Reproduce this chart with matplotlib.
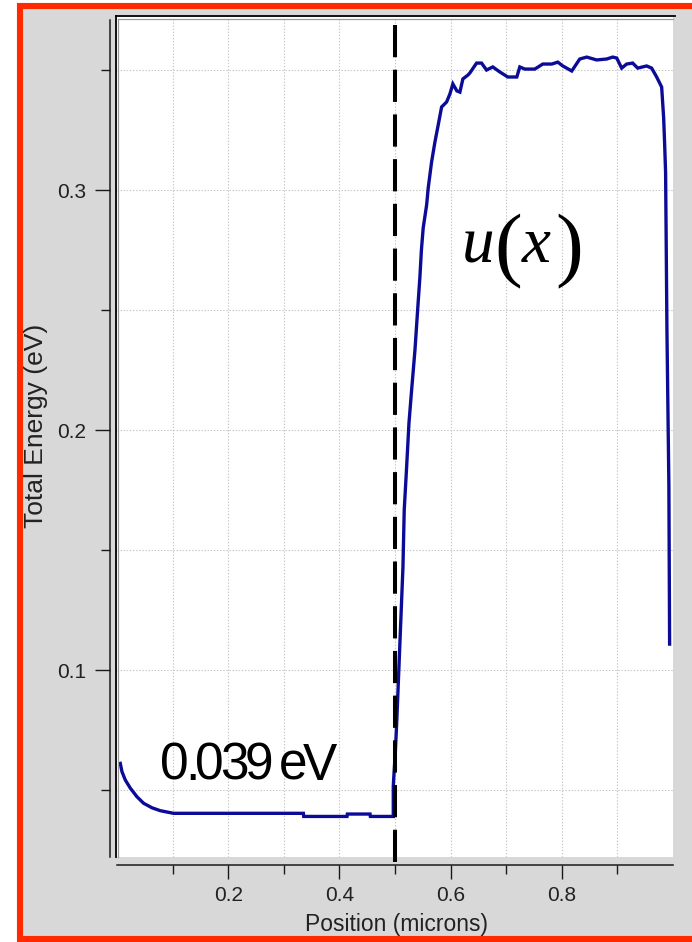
import numpy as np
import matplotlib
matplotlib.use("Agg")
import matplotlib.pyplot as plt
from matplotlib.patches import Rectangle
from matplotlib.lines import Line2D
from matplotlib.transforms import offset_copy
from matplotlib import font_manager

# ---------------------------------------------------------------- data
floor_energy = 0.039          # eV, bottom of the well
interface_x = 0.5             # microns, junction position

# well region (left of the junction)
x_well = [0.0059, 0.0090, 0.0149, 0.0239, 0.0359, 0.0478, 0.0629, 0.0778,
          0.1017, 0.3352, 0.3358, 0.4137, 0.4143, 0.4551, 0.4557, 0.4969]
e_well = [0.0611, 0.0576, 0.0542, 0.0508, 0.0472, 0.0445, 0.0426, 0.0414,
          0.0403, 0.0403, floor_energy, floor_energy, 0.0400, 0.0400,
          floor_energy, floor_energy]

# rising edge of the barrier
x_rise = [0.4969, 0.4972, 0.5008, 0.5035, 0.5071, 0.5107, 0.5143, 0.5166,
          0.5209, 0.5251, 0.5299, 0.5359, 0.5407, 0.5448, 0.5475, 0.5507,
          0.5569, 0.5597, 0.5658, 0.5718, 0.5777, 0.5838]
e_rise = [0.0514, 0.0529, 0.0667, 0.0804, 0.1013, 0.1221, 0.1429, 0.1667,
          0.1846, 0.2029, 0.2167, 0.2333, 0.2500, 0.2638, 0.2750, 0.2842,
          0.2938, 0.3008, 0.3117, 0.3200, 0.3271, 0.3346]

# barrier top and far edge
x_top = [0.5928, 0.5987, 0.6041, 0.6113, 0.6167, 0.6221, 0.6311, 0.6347,
         0.6467, 0.6557, 0.6646, 0.6759, 0.6885, 0.7029, 0.7191, 0.7245,
         0.7335, 0.7514, 0.7658, 0.7820, 0.7928, 0.8018, 0.8179, 0.8323,
         0.8449, 0.8628, 0.8808, 0.8916, 0.8988, 0.9077, 0.9167, 0.9275,
         0.9365, 0.9526, 0.9616, 0.9706, 0.9760, 0.9796, 0.9832, 0.9849,
         0.9867, 0.9891, 0.9926, 0.9939]
e_top = [0.3367, 0.3400, 0.3442, 0.3413, 0.3408, 0.3463, 0.3479, 0.3488,
         0.3529, 0.3529, 0.3500, 0.3513, 0.3492, 0.3471, 0.3471, 0.3513,
         0.3504, 0.3504, 0.3525, 0.3525, 0.3533, 0.3517, 0.3496, 0.3546,
         0.3554, 0.3542, 0.3546, 0.3554, 0.3550, 0.3508, 0.3525, 0.3529,
         0.3508, 0.3517, 0.3508, 0.3471, 0.3446, 0.3429, 0.3300, 0.3196,
         0.3071, 0.2417, 0.1767, 0.1108]

x_major = [0.2, 0.4, 0.6, 0.8]
x_major_labels = ["0.2", "0.4", "0.6", "0.8"]
x_minor = [0.1, 0.3, 0.5, 0.7, 0.9]
y_major = [0.1, 0.2, 0.3]
y_major_labels = ["0.1", "0.2", "0.3"]
y_minor = [0.05, 0.15, 0.25, 0.35]
x_limits = (0.0, 1.0)
y_limits = (0.0221, 0.3721)
dash_top = 0.3688
dash_bottom = 0.0188

# ---------------------------------------------------------------- fonts
installed = {f.name for f in font_manager.fontManager.ttflist}


def first_installed(candidates, default):
    for name in candidates:
        if name in installed:
            return name
    return default


sans = first_installed(["Liberation Sans", "Arimo"], "DejaVu Sans")
serif = first_installed(["Liberation Serif", "Tinos"], "DejaVu Serif")
plt.rcParams["font.family"] = [sans, "DejaVu Sans"]

W, H = 692, 942
fig = plt.figure(figsize=(W / 100, H / 100), dpi=100, facecolor="white")

# panel background with red outline
panel = Rectangle((19.7 / W, 1 - 938.5 / H), (720 - 19.7) / W, (938.5 - 6.3) / H,
                  transform=fig.transFigure, facecolor="#d8d8d8",
                  edgecolor="#ff2a00", linewidth=4.4, zorder=-10)
fig.add_artist(panel)

ax = fig.add_axes([117 / W, 1 - 857 / H, (673 - 117) / W, (857 - 17) / H])
ax.set_zorder(1)
ax.set_facecolor("white")
ax.set_xlim(*x_limits)
ax.set_ylim(*y_limits)

# axis lines sit slightly away from the plotting area
for side in ("top", "right"):
    ax.spines[side].set_visible(False)
ax.spines["left"].set_position(("outward", 5.0))
ax.spines["bottom"].set_position(("outward", 5.8))
for side in ("left", "bottom"):
    ax.spines[side].set_color("#1a1a1a")
    ax.spines[side].set_linewidth(1.1)
ax.spines["left"].set_bounds(y_limits[0], 0.3708)

ax.set_xticks(x_major)
ax.set_xticklabels(x_major_labels)
ax.set_xticks(x_minor, minor=True)
ax.set_yticks(y_major)
ax.set_yticklabels(y_major_labels)
ax.set_yticks(y_minor, minor=True)
ax.tick_params(axis="both", which="major", direction="out", width=1.0,
               color="#1a1a1a", labelsize=15, labelcolor="#222222")
ax.tick_params(axis="y", which="major", length=10.8, pad=6.5)
ax.tick_params(axis="x", which="major", length=10.0, pad=5.0)
ax.tick_params(axis="both", which="minor", direction="out", width=1.0,
               color="#1a1a1a", length=6.8)

ax.grid(which="both", color="#c4c4c4", linewidth=0.8, dashes=(1.2, 1.6))
ax.set_axisbelow(True)

# bevelled frame on the left and top of the plotting area
frame_kw = dict(transform=ax.transAxes, clip_on=False, zorder=5)
ax.add_line(Line2D([-0.002, -0.002], [0.0, 1.0015], color="black", lw=1.3, **frame_kw))
ax.add_line(Line2D([-0.002, 1.004], [1.0015, 1.0015], color="black", lw=1.3, **frame_kw))
ax.add_line(Line2D([0.0015, 0.0015], [0.0, 0.998], color="#9a9a9a", lw=0.9, **frame_kw))
ax.add_line(Line2D([0.0015, 1.0], [0.998, 0.998], color="#9a9a9a", lw=0.9, **frame_kw))

# energy profile
x_all = np.concatenate([x_well, x_rise, x_top])
e_all = np.concatenate([e_well, e_rise, e_top])
ax.plot(x_all, e_all, color="#0b0b98", linewidth=2.4, solid_joinstyle="miter",
        zorder=3)

# junction marker
ax.plot([interface_x, interface_x], [dash_top, dash_bottom], color="black",
        linewidth=2.9, dashes=(8, 3.1), clip_on=False, zorder=4)

ax.set_xlabel("Position (microns)", fontsize=16.5, color="#222222",
              va="top", ha="center")
ax.xaxis.set_label_coords(0.5018, -0.0665)
ax.set_ylabel("Total Energy (eV)", fontsize=19, color="#222222",
              va="center", ha="center")
ax.yaxis.set_label_coords(-0.1457, 0.513)

# well-floor annotation, set with tight letter spacing
floor_text = f"{floor_energy:.3f} eV"
label_x, label_y = 0.0778, 0.0542
label_size = 37
label_width_px = 173.0
space_px = 6.0
renderer = fig.canvas.get_renderer()
glyphs = []
for ch in floor_text:
    if ch == " ":
        glyphs.append((ch, None, space_px))
        continue
    t = ax.text(label_x, label_y, ch, fontsize=label_size, family=[sans],
                color="black", ha="left", va="baseline", zorder=6)
    glyphs.append((ch, t, t.get_window_extent(renderer=renderer).width))
n_gaps = sum(1 for ch, t, w in glyphs if t is not None) - 1
ink = sum(w for ch, t, w in glyphs)
gap = max(-8.0, (label_width_px - ink) / max(n_gaps, 1))
cursor = 0.0
prev_was_glyph = False
for ch, t, w in glyphs:
    if t is None:
        cursor += w
        prev_was_glyph = False
        continue
    if prev_was_glyph:
        cursor += gap
    t.set_transform(offset_copy(ax.transData, fig=fig, x=cursor, y=0,
                                units="dots"))
    cursor += w
    prev_was_glyph = True

# u(x) annotation
ax.text(0.6203, 0.270, "u", fontsize=47, family=[serif], style="italic",
        ha="left", va="baseline", zorder=6)
ax.text(0.6780, 0.2660, "(", fontsize=60, family=[serif],
        ha="left", va="baseline", zorder=6)
ax.text(0.7280, 0.270, "x", fontsize=47, family=[serif], style="italic",
        ha="left", va="baseline", zorder=6)
ax.text(0.7890, 0.2660, ")", fontsize=60, family=[serif],
        ha="left", va="baseline", zorder=6)

fig.savefig("out.png", dpi=100, facecolor="white")
